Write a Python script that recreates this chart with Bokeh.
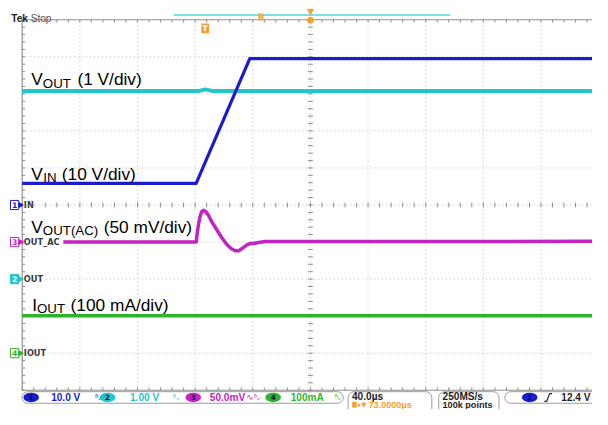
import math
from bokeh.plotting import figure
from bokeh.models import Range1d
from bokeh.core.properties import value
from bokeh.embed import file_html
from bokeh.resources import INLINE

# ---------------- data ----------------
time_per_div_us = 40.0
horizontal_delay_us = 73.0
n_hdiv = 10
n_vdiv = 10

channel_ids = ["1", "2", "3", "4"]
channel_names = ["IN", "OUT", "OUT_AC", "IOUT"]
channel_scale = [10.0, 1.0, 50.0, 100.0]          # V, V, mV, mA per div
channel_scale_text = ["10.0 V", "1.00 V", "50.0mV", "100mA"]
channel_offset_div = [0.0, -2.0, -1.0, -4.0]      # ground marker position
channel_colors = ["#1c1ccc", "#22c6cc", "#c423c4", "#2cb42c"]

# CH1  V_IN (V)
vin_t_us = [-127.0, -6.3, 30.9, 273.0]
vin_v = [5.84, 5.84, 39.5, 39.5]
# CH2  V_OUT (V)
vout_t_us = [-127.0, -4.0, 0.0, 5.0, 273.0]
vout_v = [5.08, 5.08, 5.12, 5.08, 5.08]
# CH3  V_OUT(AC) (mV)
vac_t_us = [-127.0, -6.3, -5.2, -3.9, -2.5, -1.2, 0.5, 2.5, 4.6, 7.9, 11.3,
            14.7, 18.1, 20.8, 23.4, 26.2, 28.9, 31.6, 33.6, 37.0, 41.7, 273.0]
vac_mv = [0.0, 0.0, 16.9, 32.5, 40.9, 42.9, 40.9, 35.1, 27.3, 16.9, 6.5,
          -2.6, -9.1, -11.7, -11.7, -7.8, -3.9, -1.9, -1.9, -0.6, 0.6, 1.0]
# CH4  I_OUT (mA)
iout_t_us = [-127.0, 273.0]
iout_ma = [101.0, 101.0]

trace_label_main = ["V", "V", "V", "I"]
trace_label_sub = ["OUT", "IN", "OUT(AC)", "OUT"]
trace_label_rest = ["(1 V/div)", "(10 V/div)", "(50 mV/div)", "(100 mA/div)"]

timebase_text = "40.0µs"
delay_text = "73.0000µs"
sample_rate_text = "250MS/s"
record_length_text = "100k points"
trigger_level_text = "12.4 V"

# ---------------- screen geometry (reference-image pixels) ----------------
X_CENTER = 318.3
X_PER_DIV = 59.2
Y_CENTER = 212.5
Y_PER_DIV = 38.5
REF_W, REF_H = 608.0, 425.0
FIG_W, FIG_H = 592, 409
FS = FIG_H / REF_H   # font scale


def tx(px):
    return horizontal_delay_us + (px - X_CENTER) / X_PER_DIV * time_per_div_us


def ty(py):
    return (Y_CENTER - py) / Y_PER_DIV


def fs(size):
    return "%.1fpx" % (size * FS)


ux = time_per_div_us / X_PER_DIV
uy = 1.0 / Y_PER_DIV
t_left = horizontal_delay_us - n_hdiv / 2 * time_per_div_us
t_right = horizontal_delay_us + n_hdiv / 2 * time_per_div_us
d_top = n_vdiv / 2
d_bot = -n_vdiv / 2

p = figure(width=FIG_W, height=FIG_H, x_range=Range1d(tx(0), tx(REF_W)),
           y_range=Range1d(ty(REF_H), ty(0)), output_backend="svg",
           toolbar_location=None, min_border=0, x_axis_type=None,
           y_axis_type=None)
p.outline_line_color = None
p.background_fill_color = "white"
p.border_fill_color = "white"

SANS = value("Liberation Sans")
DJ = value("DejaVu Sans")
GRID = "#b9b9b9"
BORDER = "#8e8e8e"

# ---------------- graticule ----------------
vx = [horizontal_delay_us + k * time_per_div_us for k in range(-4, 5)]
p.segment(x0=vx, y0=[d_bot] * len(vx), x1=vx, y1=[d_top] * len(vx),
          line_color=GRID, line_dash="1 3", line_width=1)
hy = [float(k) for k in range(-4, 5)]
p.segment(x0=[t_left] * len(hy), y0=hy, x1=[t_right] * len(hy), y1=hy,
          line_color=GRID, line_dash="1 3", line_width=1)

minor_x = [t_left + i * time_per_div_us / 5 for i in range(n_hdiv * 5 + 1)]
minor_y = [d_bot + i * 0.2 for i in range(n_vdiv * 5 + 1)]
p.segment(x0=minor_x, y0=[-2.5 * uy] * len(minor_x), x1=minor_x,
          y1=[2.5 * uy] * len(minor_x), line_color=BORDER, line_width=1)
p.segment(x0=[horizontal_delay_us - 2.5 * ux] * len(minor_y), y0=minor_y,
          x1=[horizontal_delay_us + 2.5 * ux] * len(minor_y), y1=minor_y,
          line_color=BORDER, line_width=1)
p.segment(x0=[t_left, t_left, t_left], y0=[d_bot, d_top, d_bot],
          x1=[t_left, t_right, t_right], y1=[d_top, d_top, d_bot],
          line_color=BORDER, line_width=1.2)
p.segment(x0=minor_x, y0=[d_top] * len(minor_x), x1=minor_x,
          y1=[d_top - 3 * uy] * len(minor_x), line_color=BORDER)
p.segment(x0=minor_x, y0=[d_bot] * len(minor_x), x1=minor_x,
          y1=[d_bot + 3 * uy] * len(minor_x), line_color=BORDER)
p.segment(x0=[t_left] * len(minor_y), y0=minor_y,
          x1=[t_left + 3 * ux] * len(minor_y), y1=minor_y, line_color=BORDER)

# ---------------- traces ----------------
def pos(values, ch):
    return [channel_offset_div[ch] + v / channel_scale[ch] for v in values]


p.line(vout_t_us, pos(vout_v, 1), line_color=channel_colors[1], line_width=4)
p.line(vac_t_us, pos(vac_mv, 2), line_color=channel_colors[2], line_width=3.5,
       line_join="round")
p.line(iout_t_us, pos(iout_ma, 3), line_color=channel_colors[3], line_width=3.5)
p.line(vin_t_us, pos(vin_v, 0), line_color=channel_colors[0], line_width=3.2,
       line_join="round")

# ---------------- channel ground markers ----------------
label_w = [10, 20, 40, 24]
for i in range(4):
    y = channel_offset_div[i]
    p.quad(left=[tx(23.5)], right=[tx(24.5 + label_w[i])], top=[y + 5 * uy],
           bottom=[y - 5 * uy], fill_color="white", line_color=None)
    filled = (i == 1)
    p.rect(x=[tx(14.5)], y=[y], width=8.5 * ux, height=9.5 * uy,
           fill_color=channel_colors[i] if filled else "white",
           line_color=channel_colors[i], line_width=1)
    p.scatter(x=[tx(20.3)], y=[y], marker="triangle", size=5, angle=-math.pi / 2,
              fill_color=channel_colors[i], line_color=channel_colors[i])
    p.text(x=[tx(14.5)], y=[y], text=[channel_ids[i]], text_font=DJ,
           text_font_size=fs(8), text_font_style="bold",
           text_color="white" if filled else channel_colors[i],
           text_align="center", text_baseline="middle")
    p.text(x=[tx(24)], y=[y], text=[channel_names[i]], text_font=DJ,
           text_font_size=fs(8.5), text_font_style="bold", text_color="#3a3a3a",
           text_align="left", text_baseline="middle")

# ---------------- trace annotations ----------------
lab_x = [(31.5, 43.5, 79.0), (31.5, 44.0, 63.0), (31.5, 43.5, 106.0), (32.5, 37.5, 72.0)]
lab_y = [82.0, 180.0, 235.0, 316.5]
for i in range(4):
    xm, xs, xr = lab_x[i]
    yb = lab_y[i]
    p.text(x=[tx(xm)], y=[ty(yb)], text=[trace_label_main[i]], text_font=SANS,
           text_font_size=fs(18), text_color="black", text_align="left",
           text_baseline="alphabetic")
    p.text(x=[tx(xs)], y=[ty(yb + 4)], text=[trace_label_sub[i]], text_font=SANS,
           text_font_size=fs(13.8), text_color="black", text_align="left",
           text_baseline="alphabetic")
    p.text(x=[tx(xr)], y=[ty(yb)], text=[trace_label_rest[i]], text_font=SANS,
           text_font_size=fs(18), text_color="black", text_align="left",
           text_baseline="alphabetic")

# ---------------- top status ----------------
ORANGE = "#f0a030"
p.text(x=[tx(11)], y=[ty(18.5)], text=["Tek"], text_font=SANS,
       text_font_size=fs(10.5), text_font_style="bold", text_color="#202020",
       text_baseline="alphabetic")
p.text(x=[tx(31)], y=[ty(18.5)], text=["Stop"], text_font=SANS,
       text_font_size=fs(10.5), text_color="#555555", text_baseline="alphabetic")
p.segment(x0=[tx(178)], y0=[ty(15)], x1=[tx(462)], y1=[ty(15)],
          line_color="#55d4de", line_width=1.5)
p.rect(x=[tx(267.5)], y=[ty(17)], width=5 * ux, height=7 * uy,
       fill_color=ORANGE, line_color=None)
p.segment(x0=[tx(267.5)], y0=[ty(14.5)], x1=[tx(267.5)], y1=[ty(19.5)],
          line_color="#ffe0a0", line_width=1)
p.scatter(x=[horizontal_delay_us], y=[ty(11)], marker="inverted_triangle",
          size=6, fill_color=ORANGE, line_color=ORANGE)
p.scatter(x=[horizontal_delay_us], y=[ty(20.5)], marker="circle", size=6,
          fill_color=ORANGE, line_color=ORANGE)
p.rect(x=[0.0], y=[ty(29)], width=8 * ux, height=10 * uy, fill_color=ORANGE,
       line_color=None)
p.text(x=[0.0], y=[ty(29)], text=["T"], text_font=DJ, text_font_size=fs(8),
       text_font_style="bold", text_color="white", text_align="center",
       text_baseline="middle")

# ---------------- bottom status bar ----------------
BOXC = "#9c9c9c"
p.quad(left=[tx(22), tx(357), tx(450), tx(518)],
       right=[tx(352), tx(443), tx(512), tx(650)],
       top=[ty(406.5)] * 4,
       bottom=[ty(418.5), ty(440), ty(440), ty(418.5)],
       fill_color="white", line_color=BOXC, line_width=1, border_radius=6)

ell_x = [31.5, 110.0, 198.0, 280.0]
txt_x = [52.0, 133.0, 215.0, 298.0]
bw_x = [97.0, 177.0, 260.0, 343.0]
YB = 412.5
Y2 = 420.0
for i in range(4):
    p.ellipse(x=[tx(ell_x[i])], y=[ty(YB)], width=16 * ux, height=10 * uy,
              fill_color=channel_colors[i], line_color=None)
    p.text(x=[tx(ell_x[i])], y=[ty(YB)], text=[channel_ids[i]], text_font=DJ,
           text_font_size=fs(7.5), text_font_style="bold", text_color="#101040",
           text_align="center", text_baseline="middle")
    p.text(x=[tx(txt_x[i])], y=[ty(YB)], text=[channel_scale_text[i]],
           text_font=SANS, text_font_size=fs(10.5), text_font_style="bold",
           text_color=channel_colors[i], text_align="left",
           text_baseline="middle")
    p.text(x=[tx(bw_x[i])], y=[ty(YB)], text=["ᴮᵥ"], text_font=DJ,
           text_font_size=fs(8), text_color=channel_colors[i],
           text_align="left", text_baseline="middle")
p.text(x=[tx(252.5)], y=[ty(YB)], text=["∿"], text_font=DJ,
       text_font_size=fs(9), text_color=channel_colors[2], text_align="left",
       text_baseline="middle")

p.text(x=[tx(361)], y=[ty(YB - 0.5)], text=[timebase_text], text_font=SANS,
       text_font_size=fs(10.5), text_font_style="bold", text_color="#222222",
       text_baseline="middle")
p.rect(x=[tx(363.5)], y=[ty(Y2)], width=4.5 * ux, height=6 * uy,
       fill_color=ORANGE, line_color=None)
p.text(x=[tx(367)], y=[ty(Y2)], text=["▸▼"], text_font=DJ,
       text_font_size=fs(7), text_color=ORANGE, text_baseline="middle")
p.text(x=[tx(378)], y=[ty(Y2)], text=[delay_text], text_font=SANS,
       text_font_size=fs(9.5), text_font_style="bold", text_color=ORANGE,
       text_baseline="middle")
p.text(x=[tx(454)], y=[ty(YB - 0.5)], text=[sample_rate_text], text_font=SANS,
       text_font_size=fs(10.5), text_font_style="bold", text_color="#222222",
       text_baseline="middle")
p.text(x=[tx(454)], y=[ty(Y2)], text=[record_length_text], text_font=SANS,
       text_font_size=fs(9.5), text_font_style="bold", text_color="#222222",
       text_baseline="middle")
p.ellipse(x=[tx(543.5)], y=[ty(YB)], width=16 * ux, height=10 * uy,
          fill_color=channel_colors[0], line_color=None)
p.text(x=[tx(543.5)], y=[ty(YB)], text=[channel_ids[0]], text_font=DJ,
       text_font_size=fs(7.5), text_font_style="bold", text_color="#101040",
       text_align="center", text_baseline="middle")
p.line(x=[tx(558.5), tx(561), tx(564), tx(566.5)],
       y=[ty(416.5), ty(416.5), ty(408.5), ty(408.5)], line_color="#222222",
       line_width=1.2)
p.text(x=[tx(576)], y=[ty(YB)], text=[trigger_level_text], text_font=SANS,
       text_font_size=fs(10.5), text_font_style="bold", text_color="#222222",
       text_baseline="middle")

open("out.html", "w").write(file_html(p, INLINE))
